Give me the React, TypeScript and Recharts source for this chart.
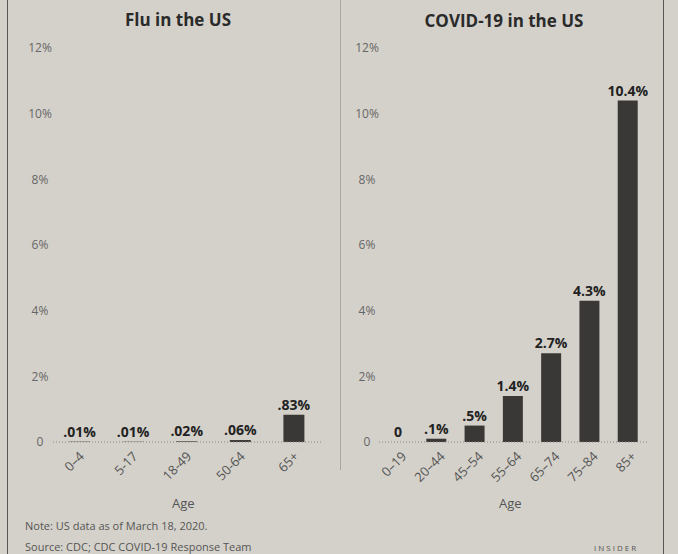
import { BarChart, Bar, XAxis, YAxis, LabelList, ReferenceLine } from 'recharts'

const fluAges = ['0–4', '5-17', '18-49', '50-64', '65+']
const fluRates = [0.01, 0.01, 0.02, 0.06, 0.83]

const covidAges = ['0–19', '20–44', '45–54', '55–64', '65–74', '75–84', '85+']
const covidRates = [0, 0.1, 0.5, 1.4, 2.7, 4.3, 10.4]

const yTicks = [0, 2, 4, 6, 8, 10, 12]

const FONT = '"Open Sans", "DejaVu Sans", sans-serif'
const BAR = '#3a3836'
const BG = '#d4d1ca'

const fluData = fluAges.map((age, i) => ({ age, rate: fluRates[i] }))
const covidData = covidAges.map((age, i) => ({ age, rate: covidRates[i] }))

const fmtValue = (v: any) => {
  const n = Number(v)
  if (n === 0) return '0'
  return String(n).replace(/^0\./, '.') + '%'
}

const fmtTick = (v: number) => (v === 0 ? '0' : `${v}%`)

function YTick({ y, payload, labelX }: any) {
  return (
    <text x={labelX} y={y} dy="0.35em" textAnchor="middle" fontSize={12} fill="#666" fontFamily={FONT}>
      {fmtTick(payload.value)}
    </text>
  )
}

function XTick({ x, y, payload, shift }: any) {
  return (
    <g transform={`translate(${x + shift},${y + 4})`}>
      <text textAnchor="end" dy="0.35em" transform="rotate(-45)" fontSize={13} fill="#555" fontFamily={FONT}>
        {payload.value}
      </text>
    </g>
  )
}

function Panel({ data, width, left, labelX, rightMargin, yWidth, barSize, shift }: any) {
  return (
    <div style={{ position: 'absolute', left, top: 0 }}>
      <BarChart
        width={width}
        height={520}
        data={data}
        margin={{ top: 48, right: rightMargin, bottom: 18, left: 0 }}
      >
        <YAxis
          domain={[0, 12]}
          ticks={yTicks}
          width={yWidth}
          axisLine={false}
          tickLine={false}
          tick={<YTick labelX={labelX} />}
        />
        <XAxis
          dataKey="age"
          height={60}
          axisLine={false}
          tickLine={false}
          interval={0}
          tick={<XTick shift={shift} />}
        />
        <ReferenceLine y={0} stroke="#8a8780" strokeDasharray="1 2" />
        <Bar dataKey="rate" fill={BAR} barSize={barSize} minPointSize={0.01} isAnimationActive={false}>
          <LabelList
            dataKey="rate"
            position="top"
            formatter={fmtValue}
            fontSize={14}
            fontWeight={700}
            fill="#222"
            fontFamily={FONT}
          />
        </Bar>
      </BarChart>
    </div>
  )
}

const textStyle = { position: 'absolute' as const, fontFamily: FONT, color: '#555', fontSize: 11, lineHeight: '12px' }

export default function App() {
  return (
    <div
      style={{
        position: 'absolute',
        left: 0,
        top: 0,
        width: 678,
        height: 554,
        background: BG,
        overflow: 'hidden',
        fontFamily: FONT,
      }}
    >
      <div style={{ position: 'absolute', left: 7, top: 0, width: 1, height: 554, background: '#555' }} />
      <div style={{ position: 'absolute', left: 340, top: 0, width: 1, height: 470, background: '#aaa7a0' }} />
      <div style={{ position: 'absolute', left: 663, top: 0, width: 1, height: 554, background: '#555' }} />

      <div style={{ position: 'absolute', left: 60, width: 236, top: 8, textAlign: 'center', fontSize: 17, fontWeight: 700, color: '#2a2a2a' }}>
        Flu in the US
      </div>
      <div style={{ position: 'absolute', left: 404, width: 200, top: 9, textAlign: 'center', fontSize: 17, fontWeight: 700, color: '#2a2a2a' }}>
        COVID-19 in the US
      </div>

      <Panel data={fluData} width={340} left={0} labelX={40} rightMargin={19} yWidth={53} barSize={21} shift={2} />
      <Panel data={covidData} width={330} left={340} labelX={27} rightMargin={23} yWidth={39} barSize={20} shift={6} />

      <div style={{ ...textStyle, left: 172, top: 496, fontSize: 13, lineHeight: '14px' }}>Age</div>
      <div style={{ ...textStyle, left: 499, top: 496, fontSize: 13, lineHeight: '14px' }}>Age</div>

      <div style={{ ...textStyle, left: 25, top: 520 }}>Note: US data as of March 18, 2020.</div>
      <div style={{ ...textStyle, left: 25, top: 541 }}>Source: CDC; CDC COVID-19 Response Team</div>
      <div style={{ ...textStyle, left: 594, top: 543, fontSize: 8, lineHeight: '10px', letterSpacing: 2 }}>INSIDER</div>
    </div>
  )
}
